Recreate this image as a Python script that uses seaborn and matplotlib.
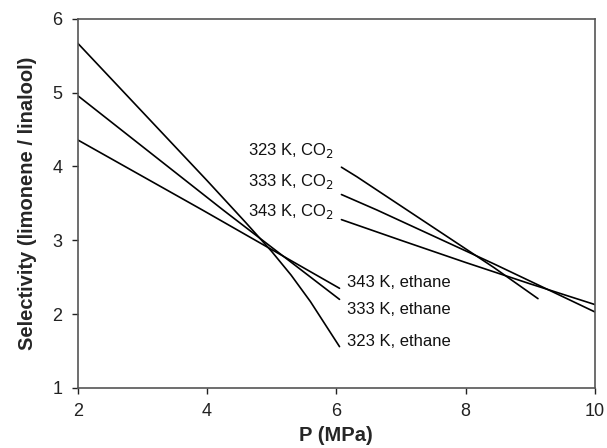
import numpy as np
import pandas as pd
import seaborn as sns
import matplotlib.pyplot as plt

sns.set_theme(style="white")
plt.rcParams['font.family'] = ['Liberation Sans', 'DejaVu Sans']

# ethane series (P in MPa, selectivity)
p_323_eth = [2.0, 3.0, 4.0, 4.6, 5.0, 5.3, 5.6, 6.05]
s_323_eth = [5.67, 4.74, 3.81, 3.24, 2.85, 2.53, 2.17, 1.56]
p_333_eth = [2.0, 4.25, 6.05]
s_333_eth = [4.96, 3.41, 2.20]
p_343_eth = [2.0, 3.93, 6.05]
s_343_eth = [4.36, 3.41, 2.35]

# CO2 series
p_323_co2 = [6.08, 6.32, 6.63, 8.44, 9.12]
s_323_co2 = [3.99, 3.86, 3.68, 2.63, 2.21]
p_333_co2 = [6.08, 6.63, 8.44, 10.0]
s_333_co2 = [3.62, 3.41, 2.68, 2.03]
p_343_co2 = [6.08, 7.0, 8.0, 9.0, 10.0]
s_343_co2 = [3.28, 3.00, 2.70, 2.41, 2.13]

series = [
    ("323 K, ethane", p_323_eth, s_323_eth),
    ("333 K, ethane", p_333_eth, s_333_eth),
    ("343 K, ethane", p_343_eth, s_343_eth),
    ("323 K, CO$_2$", p_323_co2, s_323_co2),
    ("333 K, CO$_2$", p_333_co2, s_333_co2),
    ("343 K, CO$_2$", p_343_co2, s_343_co2),
]

# label anchors (left edge, vertical centre) in data units
label_pos = {
    "323 K, CO$_2$": (4.64, 4.22),
    "333 K, CO$_2$": (4.64, 3.80),
    "343 K, CO$_2$": (4.64, 3.39),
    "343 K, ethane": (6.17, 2.43),
    "333 K, ethane": (6.17, 2.06),
    "323 K, ethane": (6.17, 1.63),
}

f, ax = plt.subplots(figsize=(6.07, 4.48), dpi=100)
f.subplots_adjust(left=0.128, right=0.980, top=0.958, bottom=0.134)

for name, p, s in series:
    df = pd.DataFrame({"P": p, "S": s})
    sns.lineplot(data=df, x="P", y="S", color="black", linewidth=1.2,
                 sort=False, ax=ax)
    lx, ly = label_pos[name]
    ax.text(lx, ly, name, fontsize=12, va="center", ha="left", color="#111111")

ax.set_xlim(2, 10)
ax.set_ylim(1, 6)
ax.set_xticks([2, 4, 6, 8, 10])
ax.set_yticks([1, 2, 3, 4, 5, 6])
ax.tick_params(axis="both", direction="out", length=4.5, width=1, labelsize=13,
               colors="#222222", bottom=True, left=True)
ax.tick_params(axis="x", pad=6)
ax.tick_params(axis="y", pad=6.5)
for sp in ax.spines.values():
    sp.set_color("#555555")
    sp.set_linewidth(1.2)

ax.set_xlabel("P (MPa)", fontsize=14.5, fontweight="bold", labelpad=5)
ax.set_ylabel("Selectivity (limonene / linalool)", fontsize=14.5,
              fontweight="bold", labelpad=11)

plt.savefig("out.png", dpi=100)
